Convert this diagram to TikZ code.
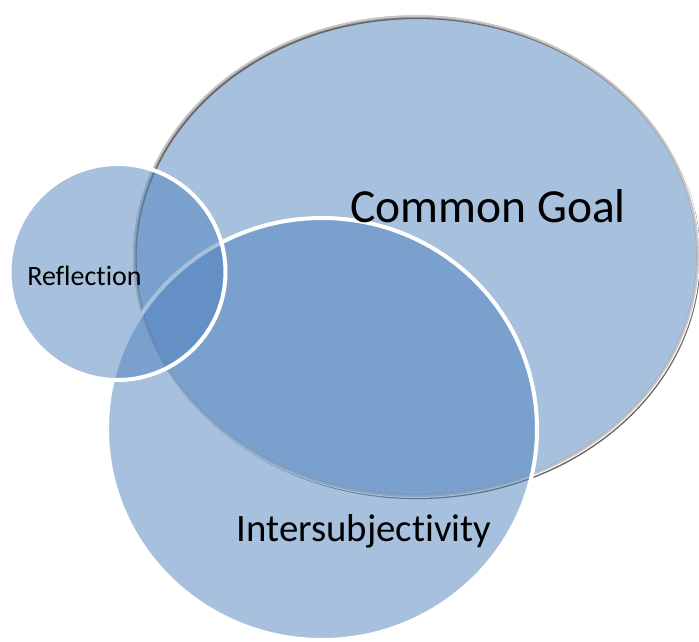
\documentclass[tikz,border=0pt]{standalone}
\usepackage{fontspec}
\setmainfont{Carlito}[Ligatures={NoCommon,NoDiscretionary,NoContextual}]
\usetikzlibrary{calc}
\definecolor{vblue}{HTML}{4F81BD}
\tikzset{
  vfill/.style={fill=vblue, fill opacity=0.5},
  wring/.style={draw=white, line width=4pt},
  lbl/.style={text=black, inner sep=0pt, anchor=center}
}
\begin{document}
\begin{tikzpicture}[x=1pt,y=-1pt]
\useasboundingbox (0,0) rectangle (699,641);
% Common Goal ellipse
\coordinate (cg) at (416,256);
\fill[vfill] (cg) ellipse [x radius=282, y radius=240];
\draw[black!60, line width=2.6pt] ($(cg)+(1.3,1.8)$) ellipse [x radius=282, y radius=240];
\draw[gray!45, line width=2.5pt] (cg) ellipse [x radius=282, y radius=240];
\draw[white, line width=1pt] (cg) ellipse [x radius=283.5, y radius=241.5];
\draw[gray!70, line width=0.8pt, opacity=0.6] (cg) ellipse [x radius=280.5, y radius=238.5];
% Intersubjectivity circle
\coordinate (is) at (322,429);
\fill[vfill] (is) ellipse [x radius=215, y radius=211];
\draw[wring] (is) ellipse [x radius=215, y radius=211];
% Reflection circle
\coordinate (rf) at (117.5,272);
\fill[vfill] (rf) circle [radius=108];
\draw[wring] (rf) circle [radius=108];
% labels
\node[lbl, font=\fontsize{47.5}{52}\selectfont] (tcg) at (488,206) {Common Goal};
\node[lbl, font=\fontsize{38.8}{44}\selectfont] (tis) at (364,531) {Intersubjectivity};
\node[lbl, font=\fontsize{28}{32}\selectfont] (trf) at (84.5,276) {Reflection};
\end{tikzpicture}
\end{document}
